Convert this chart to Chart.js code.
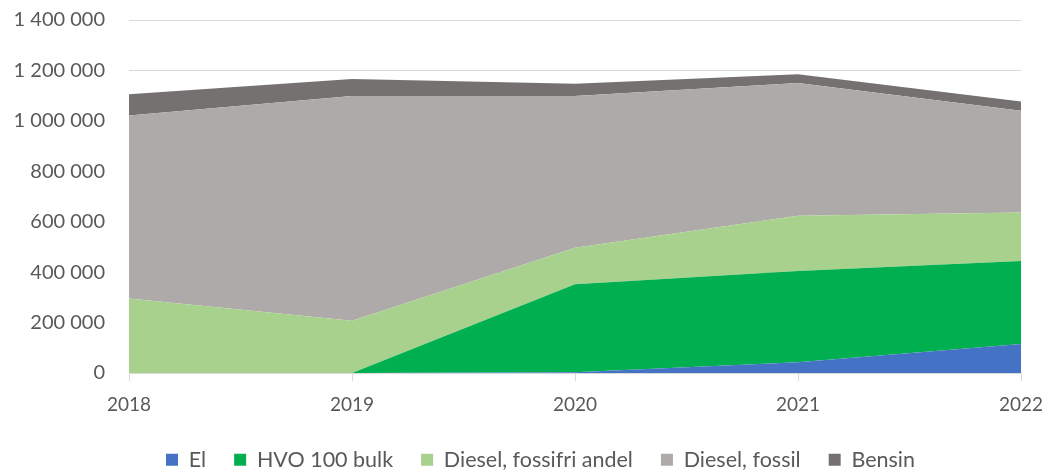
<!DOCTYPE html>
<html>
<head>
<meta charset="utf-8">
<script src="https://cdn.jsdelivr.net/npm/chart.js@4/dist/chart.umd.min.js"></script>
<style>
html,body{margin:0;padding:0;background:#fff;}
#wrap{width:1047px;height:471px;position:relative;}
</style>
</head>
<body>
<div id="wrap"><canvas id="c" width="1047" height="471"></canvas></div>
<script>
const years = ["2018", "2019", "2020", "2021", "2022"];
const el = [0, 0, 3000, 43000, 115000];
const hvo = [0, 0, 349000, 362000, 329000];
const dieselFossilfri = [295000, 207000, 145000, 219000, 193000];
const dieselFossil = [726000, 892000, 602000, 526000, 403000];
const bensin = [85000, 67000, 48000, 35000, 37000];
const yTicks = [0, 200000, 400000, 600000, 800000, 1000000, 1200000, 1400000];

const fmt = v => String(v).replace(/\B(?=(\d{3})+(?!\d))/g, " ");
const FONT = "Lato, 'Open Sans', sans-serif";
const TXT = "#595959";

function ds(label, data, color, fill) {
  return {label, data, backgroundColor: color, borderColor: color, borderWidth: 0,
    pointRadius: 0, pointHoverRadius: 0, fill, tension: 0};
}

const legendFix = {
  id: 'legendFix',
  beforeInit(chart) {
    const lg = chart.legend;
    const orig = lg.fit;
    lg.fit = function () { orig.call(this); this.height = 50; };
  },
  afterUpdate(chart) {
    const lg = chart.legend;
    lg.left += 30; lg.right += 30;
    lg.adjustHitBoxes && lg.adjustHitBoxes();
  }
};

new Chart(document.getElementById('c'), {
  type: 'line',
  data: {
    labels: years,
    datasets: [
      ds("El", el, "#4472c4", 'origin'),
      ds("HVO 100 bulk", hvo, "#00b050", '-1'),
      ds("Diesel, fossifri andel", dieselFossilfri, "#a9d18e", '-1'),
      ds("Diesel, fossil", dieselFossil, "#aeaaaa", '-1'),
      ds("Bensin", bensin, "#767171", '-1')
    ]
  },
  plugins: [legendFix],
  options: {
    responsive: false,
    animation: false,
    layout: {padding: {left: 0, right: 26, top: 20, bottom: 0}},
    plugins: {
      tooltip: {enabled: false},
      legend: {
        position: 'bottom',
        labels: {boxWidth: 12, boxHeight: 12, color: TXT, font: {family: FONT, size: 21.5}, padding: 28}
      }
    },
    scales: {
      x: {
        type: 'category',
        offset: false,
        afterFit: s => { s.height = 48; },
        grid: {drawOnChartArea: false, drawTicks: true, tickLength: 8, color: "#d9d9d9"},
        border: {display: true, color: "#d9d9d9"},
        ticks: {color: TXT, font: {family: FONT, size: 19, lineHeight: 2.5}, padding: 0, maxRotation: 0, autoSkip: false}
      },
      y: {
        stacked: true,
        min: 0, max: 1400000,
        afterBuildTicks: s => { s.ticks = yTicks.map(v => ({value: v})); },
        afterFit: s => { s.width = 129; },
        grid: {color: "#d9d9d9", drawTicks: true, tickLength: 24, tickColor: "rgba(0,0,0,0)"},
        border: {display: false},
        ticks: {color: TXT, font: {family: FONT, size: 20}, padding: 0, callback: v => fmt(v)}
      }
    }
  }
});
</script>
</body>
</html>
